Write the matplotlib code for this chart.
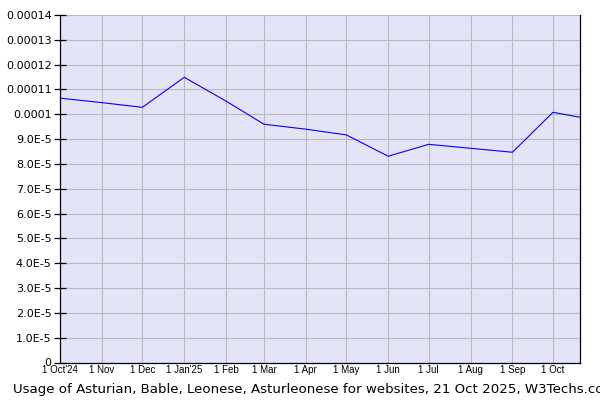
import datetime as dt
import matplotlib
matplotlib.use("Agg")
import matplotlib.pyplot as plt

# monthly usage share
dates = [dt.date(2024, 10, 1), dt.date(2024, 11, 1), dt.date(2024, 12, 1),
         dt.date(2025, 1, 1), dt.date(2025, 2, 1), dt.date(2025, 3, 1),
         dt.date(2025, 4, 1), dt.date(2025, 5, 1), dt.date(2025, 6, 1),
         dt.date(2025, 7, 1), dt.date(2025, 8, 1), dt.date(2025, 9, 1),
         dt.date(2025, 10, 1), dt.date(2025, 10, 21)]
usage = [10.65e-5, 10.47e-5, 10.28e-5, 11.49e-5, 10.53e-5, 9.60e-5,
         9.40e-5, 9.17e-5, 8.31e-5, 8.79e-5, 8.63e-5, 8.47e-5,
         10.08e-5, 9.88e-5]

tick_dates = dates[:-1]
tick_labels = ["1 Oct'24", "1 Nov", "1 Dec", "1 Jan'25", "1 Feb", "1 Mar",
               "1 Apr", "1 May", "1 Jun", "1 Jul", "1 Aug", "1 Sep", "1 Oct"]
y_ticks = [i * 1e-5 for i in range(15)]
y_labels = ["0", "1.0E-5", "2.0E-5", "3.0E-5", "4.0E-5", "5.0E-5", "6.0E-5",
            "7.0E-5", "8.0E-5", "9.0E-5", "0.0001", "0.00011", "0.00012",
            "0.00013", "0.00014"]

fig = plt.figure(figsize=(6, 4), dpi=100)
ax = fig.add_axes([60 / 600, 37.5 / 400, 520 / 600, 347.5 / 400])
ax.set_facecolor("#e4e4f8")

ax.plot(dates, usage, color="#0000ff", linewidth=0.8)

ax.set_xlim(dates[0], dates[-1])
ax.set_ylim(0, 0.00014)
ax.set_xticks(tick_dates)
ax.set_xticklabels(tick_labels, family="Liberation Sans", fontsize=7)
ax.set_yticks(y_ticks)
ax.set_yticklabels(y_labels, family="DejaVu Sans", fontsize=8)
ax.tick_params(axis="x", length=0, pad=2)
ax.tick_params(axis="y", direction="inout", length=8, width=0.9, pad=2)

ax.grid(True, color="#bbbbbb", linewidth=0.8)
ax.set_axisbelow(True)
ax.spines["top"].set_visible(False)
for s in ["left", "right", "bottom"]:
    ax.spines[s].set_color("black")
    ax.spines[s].set_linewidth(0.9)

fig.text(13 / 600, 1 - 389 / 400,
         "Usage of Asturian, Bable, Leonese, Asturleonese for websites, 21 Oct 2025, W3Techs.com",
         fontsize=9.6, family="DejaVu Sans", va="center", ha="left")

fig.savefig("out.png", dpi=100)
